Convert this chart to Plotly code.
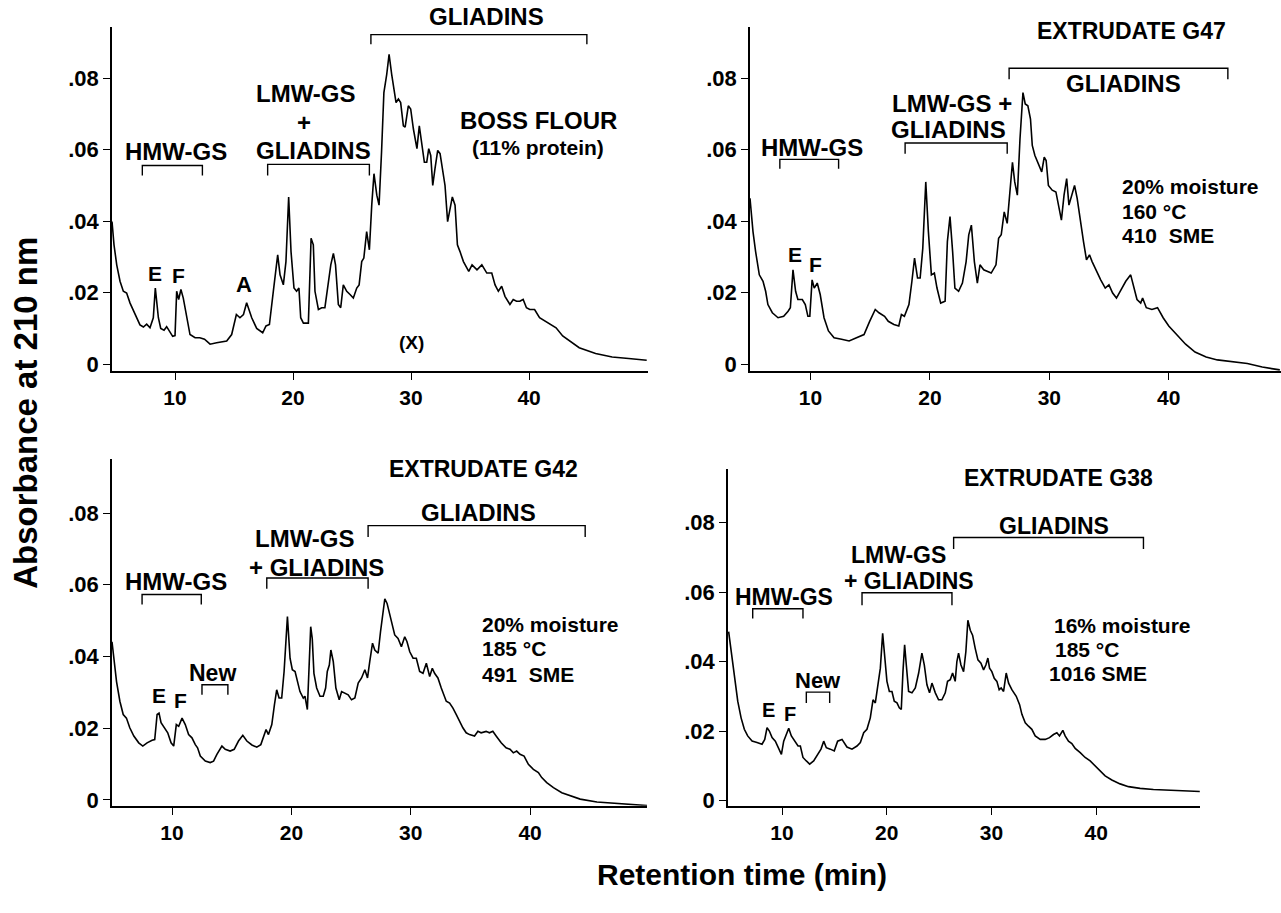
import plotly.graph_objects as go

# ---------------- data (retention time, min ; absorbance at 210 nm) ----------------
boss_t = [4.66,4.83,5.06,5.34,5.62,5.9,6.19,6.61,7.03,7.32,7.6,7.88,8.16,8.33,8.59,8.79,9.07,9.29,9.52,9.8,
          10.0,10.14,10.31,10.5,10.7,10.99,11.27,11.7,12.1,12.5,12.97,13.53,14.38,14.8,15.2,15.5,15.8,16.07,16.3,16.5,
          16.92,17.43,17.71,18.0,18.33,18.7,18.9,19.18,19.4,19.63,19.83,20.08,20.3,20.5,20.65,20.88,21.3,21.53,21.72,21.86,
          22.15,22.43,22.7,23.0,23.2,23.42,23.6,23.84,24.04,24.26,24.55,24.83,25.11,25.4,25.6,25.82,26.0,26.24,26.47,26.67,
          26.86,27.1,27.29,27.5,27.7,27.94,28.14,28.36,28.56,28.73,28.93,29.12,29.35,29.5,29.77,29.97,30.2,30.5,30.7,30.9,
          31.13,31.33,31.5,31.67,31.84,32.03,32.26,32.46,32.68,32.88,33.1,33.3,33.5,33.73,33.93,34.15,34.44,34.89,35.17,35.59,
          36.0,36.42,36.84,37.12,37.4,37.68,37.96,38.38,38.66,38.94,39.22,39.5,39.78,40.06,40.47,40.89,41.31,41.73,42.29,42.85,
          43.41,44.25,45.64,47.04,48.44,49.97]
boss_a = [0.0399,0.0334,0.0278,0.0232,0.0204,0.0199,0.0171,0.0140,0.0110,0.0104,0.0112,0.0102,0.0130,0.0213,0.0130,0.0100,0.0095,0.0105,0.0092,0.0078,
          0.0080,0.0204,0.0181,0.0209,0.0185,0.0130,0.0083,0.0074,0.0074,0.0070,0.0056,0.0060,0.0065,0.0083,0.0139,0.0130,0.0139,0.0172,0.0148,0.0130,
          0.0100,0.0088,0.0107,0.0111,0.0204,0.0306,0.0250,0.0222,0.0287,0.0468,0.0315,0.0213,0.0204,0.0213,0.0130,0.0115,0.0115,0.0352,0.0334,0.0204,
          0.0153,0.0158,0.0158,0.0232,0.0278,0.0310,0.0278,0.0167,0.0158,0.0222,0.0204,0.0195,0.0185,0.0213,0.0222,0.0287,0.0297,0.0371,0.0320,0.0445,
          0.0533,0.0473,0.0445,0.0593,0.0760,0.0811,0.0867,0.0811,0.0760,0.0732,0.0742,0.0732,0.0667,0.0663,0.0723,0.0714,0.0658,0.0603,0.0667,0.0612,
          0.0565,0.0565,0.0603,0.0584,0.0500,0.0547,0.0598,0.0589,0.0542,0.0500,0.0399,0.0436,0.0468,0.0445,0.0334,0.0315,0.0287,0.0260,0.0278,0.0264,
          0.0278,0.0255,0.0255,0.0222,0.0204,0.0218,0.0190,0.0167,0.0181,0.0176,0.0176,0.0181,0.0158,0.0153,0.0153,0.0130,0.0122,0.0113,0.0102,0.0079,
          0.0065,0.0046,0.0030,0.0020,0.0016,0.0011]

g47_t = [4.93,5.18,5.4,5.71,6.02,6.24,6.43,6.8,7.28,7.75,8.12,8.31,8.53,8.75,8.94,9.31,9.56,9.78,9.94,10.13,
         10.31,10.56,10.81,11.13,11.5,11.97,12.6,13.23,13.85,14.48,14.95,15.42,15.73,16.2,16.51,16.98,17.39,17.61,17.86,18.24,
         18.49,18.71,18.96,19.18,19.4,19.65,19.87,20.12,20.37,20.59,20.9,21.27,21.46,21.68,21.9,22.09,22.4,22.72,23.03,23.25,
         23.47,23.72,23.97,24.19,24.5,24.81,25.13,25.53,25.75,25.97,26.22,26.47,26.69,26.91,27.1,27.32,27.54,27.79,27.98,28.2,
         28.42,28.57,28.79,29.04,29.36,29.57,29.73,29.92,30.24,30.55,30.76,31.01,31.23,31.45,31.64,31.86,32.11,32.33,32.64,32.86,
         33.11,33.36,33.58,33.9,34.3,34.68,34.99,35.3,35.62,35.93,36.4,36.81,37.03,37.34,37.65,37.81,38.12,38.59,39.06,39.53,
         40.0,40.63,41.41,42.2,43.13,44.07,45.3,46.58,47.83,49.3]
g47_a = [0.0464,0.0371,0.0315,0.0250,0.0232,0.0204,0.0167,0.0144,0.0130,0.0134,0.0148,0.0158,0.0264,0.0204,0.0181,0.0181,0.0167,0.0134,0.0134,0.0236,
         0.0213,0.0227,0.0195,0.0130,0.0093,0.0074,0.0070,0.0065,0.0074,0.0083,0.0120,0.0153,0.0144,0.0134,0.0120,0.0111,0.0107,0.0139,0.0134,0.0167,
         0.0232,0.0297,0.0241,0.0241,0.0324,0.0510,0.0371,0.0250,0.0255,0.0213,0.0171,0.0176,0.0343,0.0413,0.0315,0.0213,0.0204,0.0227,0.0287,0.0362,
         0.0389,0.0287,0.0227,0.0278,0.0264,0.0260,0.0255,0.0278,0.0352,0.0362,0.0426,0.0394,0.0473,0.0565,0.0510,0.0473,0.0630,0.0760,0.0728,0.0723,
         0.0686,0.0612,0.0584,0.0565,0.0538,0.0579,0.0570,0.0500,0.0487,0.0482,0.0445,0.0403,0.0473,0.0519,0.0445,0.0473,0.0500,0.0464,0.0389,0.0343,
         0.0292,0.0306,0.0287,0.0264,0.0236,0.0213,0.0222,0.0199,0.0185,0.0204,0.0232,0.0250,0.0222,0.0181,0.0171,0.0185,0.0158,0.0153,0.0158,0.0130,
         0.0107,0.0083,0.0056,0.0034,0.0020,0.0012,0.0007,0.0002,-0.0008,-0.0016]

g42_t = [4.97,5.13,5.35,5.63,5.91,6.18,6.46,6.8,7.21,7.55,7.91,8.33,8.55,8.75,8.91,9.08,9.36,9.64,9.92,10.14,
         10.36,10.56,10.84,11.11,11.39,11.67,11.95,12.14,12.37,12.79,13.2,13.48,13.76,14.18,14.46,14.87,15.21,15.57,15.93,16.27,
         16.69,17.1,17.44,17.72,17.88,18.08,18.36,18.58,18.77,18.97,19.19,19.39,19.67,19.89,20.08,20.31,20.5,20.72,21.0,21.14,
         21.34,21.45,21.62,21.75,21.89,22.12,22.4,22.67,22.87,23.01,23.18,23.31,23.51,23.73,24.01,24.21,24.48,24.76,25.04,25.32,
         25.6,25.88,26.16,26.38,26.57,26.8,26.99,27.27,27.47,27.63,27.83,28.02,28.25,28.47,28.66,28.94,29.22,29.5,29.69,29.92,
         30.2,30.47,30.75,31.03,31.31,31.59,31.81,32.0,32.28,32.56,32.76,32.98,33.26,33.54,33.82,34.1,34.37,34.65,34.93,35.35,
         35.63,35.9,36.32,36.6,36.88,37.16,37.58,37.99,38.32,38.6,38.88,39.16,39.5,39.86,40.28,40.7,40.98,41.4,41.96,42.66,
         43.36,44.2,45.6,47.0,48.4,49.8]
g42_a = [0.0441,0.0395,0.0330,0.0275,0.0238,0.0228,0.0201,0.0178,0.0159,0.0150,0.0159,0.0166,0.0168,0.0238,0.0242,0.0215,0.0201,0.0187,0.0159,0.0150,
         0.0210,0.0205,0.0228,0.0210,0.0182,0.0173,0.0154,0.0145,0.0122,0.0108,0.0104,0.0108,0.0127,0.0150,0.0141,0.0136,0.0141,0.0164,0.0180,0.0164,
         0.0153,0.0147,0.0154,0.0182,0.0196,0.0182,0.0210,0.0265,0.0307,0.0284,0.0284,0.0358,0.0511,0.0395,0.0363,0.0358,0.0335,0.0302,0.0284,0.0289,
         0.0252,0.0340,0.0483,0.0450,0.0353,0.0312,0.0289,0.0289,0.0312,0.0358,0.0376,0.0418,0.0386,0.0312,0.0279,0.0302,0.0298,0.0293,0.0279,0.0284,
         0.0326,0.0340,0.0363,0.0340,0.0386,0.0437,0.0418,0.0409,0.0469,0.0506,0.0561,0.0548,0.0515,0.0487,0.0460,0.0450,0.0427,0.0455,0.0441,0.0413,
         0.0395,0.0395,0.0358,0.0353,0.0381,0.0344,0.0367,0.0353,0.0340,0.0312,0.0293,0.0275,0.0270,0.0256,0.0238,0.0219,0.0201,0.0187,0.0182,0.0178,
         0.0191,0.0187,0.0191,0.0187,0.0191,0.0178,0.0159,0.0145,0.0141,0.0131,0.0136,0.0127,0.0122,0.0099,0.0085,0.0076,0.0062,0.0048,0.0034,0.0020,
         0.0011,0.0002,-0.0006,-0.0010,-0.0014,-0.0016]

g38_t = [4.9,5.23,5.48,5.77,6.09,6.4,6.72,7.14,7.61,8.09,8.35,8.57,8.79,9.05,9.36,9.68,9.94,10.16,10.41,10.64,
         10.89,11.21,11.53,11.75,12.0,12.32,12.64,13.02,13.4,13.72,13.98,14.23,14.61,14.99,15.31,15.73,16.2,16.68,17.16,17.48,
         17.8,18.11,18.43,18.69,18.91,19.13,19.39,19.61,19.8,20.02,20.25,20.5,20.72,20.98,21.2,21.39,21.55,21.71,21.87,22.09,
         22.41,22.73,23.05,23.36,23.59,23.84,24.09,24.32,24.64,24.95,25.27,25.59,25.81,26.07,26.29,26.54,26.7,26.86,27.09,27.34,
         27.56,27.75,27.98,28.2,28.45,28.71,29.0,29.25,29.47,29.66,29.82,30.04,30.27,30.52,30.74,30.93,31.16,31.41,31.64,31.95,
         32.37,32.69,32.91,33.23,33.54,33.86,34.18,34.66,35.14,35.55,35.93,36.25,36.5,36.82,37.04,37.36,37.68,38.0,38.48,38.95,
         39.43,39.91,40.38,40.86,41.5,42.29,43.09,44.2,45.47,46.75,48.34,49.9]
g38_a = [0.0486,0.0410,0.0343,0.0286,0.0238,0.0205,0.0186,0.0171,0.0167,0.0162,0.0176,0.0210,0.0200,0.0181,0.0171,0.0148,0.0133,0.0171,0.0190,0.0208,
         0.0186,0.0171,0.0157,0.0157,0.0124,0.0114,0.0105,0.0114,0.0133,0.0148,0.0171,0.0152,0.0148,0.0143,0.0171,0.0176,0.0154,0.0148,0.0157,0.0167,
         0.0195,0.0205,0.0238,0.0290,0.0281,0.0324,0.0381,0.0481,0.0410,0.0343,0.0314,0.0314,0.0286,0.0281,0.0267,0.0262,0.0371,0.0448,0.0390,0.0314,
         0.0310,0.0324,0.0367,0.0424,0.0390,0.0333,0.0310,0.0338,0.0310,0.0290,0.0290,0.0310,0.0343,0.0348,0.0367,0.0343,0.0400,0.0424,0.0390,0.0371,
         0.0429,0.0519,0.0490,0.0476,0.0438,0.0405,0.0395,0.0376,0.0390,0.0410,0.0381,0.0371,0.0352,0.0343,0.0319,0.0324,0.0314,0.0367,0.0338,0.0319,
         0.0300,0.0276,0.0248,0.0224,0.0214,0.0205,0.0186,0.0176,0.0176,0.0181,0.0190,0.0195,0.0186,0.0202,0.0186,0.0171,0.0164,0.0150,0.0138,0.0124,
         0.0114,0.0100,0.0086,0.0071,0.0059,0.0048,0.0040,0.0035,0.0032,0.0030,0.0029,0.0026]

y_ticks = [0, 0.02, 0.04, 0.06, 0.08]
y_tick_labels = ["0", ".02", ".04", ".06", ".08"]
x_ticks = [10, 20, 30, 40]
x_tick_labels = ["10", "20", "30", "40"]

FONT = "Liberation Sans, Arial, Helvetica, sans-serif"
W, H = 1281, 913

fig = go.Figure()
panels = [
    ("", boss_t, boss_a),
    ("2", g47_t, g47_a),
    ("3", g42_t, g42_a),
    ("4", g38_t, g38_a),
]
for suffix, t, a in panels:
    fig.add_trace(go.Scatter(x=t, y=a, mode="lines", xaxis="x" + suffix, yaxis="y" + suffix,
                             line=dict(color="black", width=1.6), showlegend=False, hoverinfo="skip"))

def px_x(p):
    return p / W

def px_y(p):
    return 1 - p / H

# domains from pixel positions of the axes, ranges from tick positions
axes_spec = {
    "": dict(xd=(112, 648), yd=(374, 27), xr=(4.66, 50.08), yr=(-0.00194, 0.0944)),
    "2": dict(xd=(750, 1281), yd=(374, 27), xr=(4.93, 49.4), yr=(-0.00194, 0.0944)),
    "3": dict(xd=(112, 647), yd=(812, 463), xr=(4.97, 49.8), yr=(-0.00166, 0.09496)),
    "4": dict(xd=(728, 1200), yd=(812, 473), xr=(4.84, 49.92), yr=(-0.0015, 0.0953)),
}
xtickfont = dict(family=FONT, size=21, color="black", weight="bold")
ytickfont = dict(family=FONT, size=22, color="black", weight="bold")
layout_axes = {}
for s, sp in axes_spec.items():
    xa = dict(domain=[px_x(sp["xd"][0]), px_x(sp["xd"][1])], range=list(sp["xr"]),
              tickvals=x_ticks, ticktext=x_tick_labels, ticks="outside", ticklen=7, tickwidth=1.3,
              tickcolor="black", showline=True, linecolor="black", linewidth=1.5, showgrid=False,
              zeroline=False, tickfont=xtickfont, anchor="y" + s, fixedrange=True)
    ya = dict(domain=[px_y(sp["yd"][0]), px_y(sp["yd"][1])], range=list(sp["yr"]),
              tickvals=y_ticks, ticktext=y_tick_labels, ticks="outside", ticklen=7, tickwidth=1.3,
              tickcolor="black", showline=True, linecolor="black", linewidth=1.5, showgrid=False,
              zeroline=False, tickfont=ytickfont, anchor="x" + s, fixedrange=True)
    layout_axes["xaxis" + s] = xa
    layout_axes["yaxis" + s] = ya

annotations = []
shapes = []

def label(s, text, x, y, size=23, xanchor="center", ypaper=None):
    a = dict(text="<b>%s</b>" % text, x=x, y=y, xref="x" + s, yref="y" + s,
             xanchor=xanchor, yanchor="middle", showarrow=False,
             font=dict(family=FONT, size=size, color="black"))
    if ypaper is not None:
        a["yref"] = "paper"
        a["y"] = px_y(ypaper)
    annotations.append(a)

def bracket(s, x0, x1, ytop, ybot):
    shapes.append(dict(type="path", xref="x" + s, yref="y" + s,
                       path="M %f,%f L %f,%f L %f,%f L %f,%f" % (x0, ybot, x0, ytop, x1, ytop, x1, ybot),
                       line=dict(color="black", width=1.4)))

# panel 1 - Boss flour
label("", "GLIADINS", 36.4, None, 24, ypaper=17)
bracket("", 26.6, 44.9, 0.0922, 0.0895)
label("", "LMW-GS", 21.1, 0.0757, 24)
label("", "+", 20.9, 0.0677, 24)
label("", "GLIADINS", 21.75, 0.0598, 24)
bracket("", 17.85, 26.47, 0.0559, 0.0528)
label("", "HMW-GS", 10.05, 0.0596, 24)
bracket("", 7.23, 12.32, 0.0556, 0.0528)
label("", "E", 8.33, 0.0255, 21)
label("", "F", 10.28, 0.0248, 21)
label("", "A", 15.85, 0.0222, 22)
label("", "(X)", 30.06, 0.0060, 19)
label("", "BOSS FLOUR", 40.8, 0.0681, 24)
label("", "(11% protein)", 40.75, 0.0607, 21)

# panel 2 - G47
label("2", "EXTRUDATE G47", 36.87, 0.0932, 23)
bracket("2", 26.63, 44.95, 0.0828, 0.0797)
label("2", "GLIADINS", 36.24, 0.0786, 24)
label("2", "LMW-GS +", 21.84, 0.0728, 24)
label("2", "GLIADINS", 21.56, 0.0656, 24)
bracket("2", 17.92, 26.47, 0.0619, 0.0589)
label("2", "HMW-GS", 10.1, 0.0607, 24)
bracket("2", 7.43, 12.35, 0.0573, 0.0547)
label("2", "E", 8.68, 0.0306, 21)
label("2", "F", 10.41, 0.0278, 21)
label("2", "20% moisture", 35.93, 0.0496, 21, "left")
label("2", "160 °C", 35.93, 0.0426, 21, "left")
label("2", "410  SME", 35.93, 0.0360, 21, "left")

# panel 3 - G42
label("3", "EXTRUDATE G42", 36.13, 0.0922, 23)
label("3", "GLIADINS", 35.69, 0.0802, 24)
bracket("3", 26.43, 44.62, 0.0765, 0.0733)
label("3", "LMW-GS", 21.14, 0.0728, 24)
label("3", "+ GLIADINS", 22.12, 0.0649, 24)
bracket("3", 17.94, 26.43, 0.0619, 0.0589)
label("3", "HMW-GS", 10.31, 0.0608, 24)
bracket("3", 7.49, 12.45, 0.0573, 0.0545)
label("3", "New", 13.43, 0.0353, 23)
bracket("3", 12.51, 14.68, 0.0321, 0.0293)
label("3", "E", 8.89, 0.0291, 21)
label("3", "F", 10.7, 0.0277, 21)
label("3", "20% moisture", 35.8, 0.0490, 21, "left")
label("3", "185 °C", 35.8, 0.0421, 21, "left")
label("3", "491  SME", 35.8, 0.0351, 21, "left")

# panel 4 - G38
label("4", "EXTRUDATE G38", 36.41, 0.0929, 23)
label("4", "GLIADINS", 35.96, 0.0790, 23)
bracket("4", 26.39, 44.52, 0.0757, 0.0724)
label("4", "LMW-GS", 21.17, 0.0708, 23)
label("4", "+ GLIADINS", 22.12, 0.0631, 23)
bracket("4", 17.64, 26.23, 0.0598, 0.0562)
label("4", "HMW-GS", 10.16, 0.0586, 23)
bracket("4", 7.2, 12.0, 0.0552, 0.0524)
label("4", "New", 13.4, 0.0346, 22)
bracket("4", 12.32, 14.55, 0.0312, 0.0281)
label("4", "E", 8.7, 0.0262, 20)
label("4", "F", 10.8, 0.0248, 20)
label("4", "16% moisture", 35.77, 0.0503, 21, "left")
label("4", "185 °C", 35.84, 0.0436, 21, "left")
label("4", "1016 SME", 35.29, 0.0365, 21, "left")

# axis titles (shared)
annotations.append(dict(text="<b>Absorbance at 210 nm</b>", x=px_x(26), y=px_y(416), xref="paper", yref="paper",
                        textangle=-90, showarrow=False, xanchor="center", yanchor="middle",
                        font=dict(family=FONT, size=33, color="black")))
annotations.append(dict(text="<b>Retention time (min)</b>", x=px_x(742), y=px_y(881), xref="paper", yref="paper",
                        showarrow=False, xanchor="center", yanchor="middle",
                        font=dict(family=FONT, size=30, color="black")))

fig.update_layout(width=W, height=H, margin=dict(l=0, r=0, t=0, b=0), autosize=False,
                  paper_bgcolor="white", plot_bgcolor="white",
                  annotations=annotations, shapes=shapes, **layout_axes)

fig.write_html("out.html", config={"displayModeBar": False})
